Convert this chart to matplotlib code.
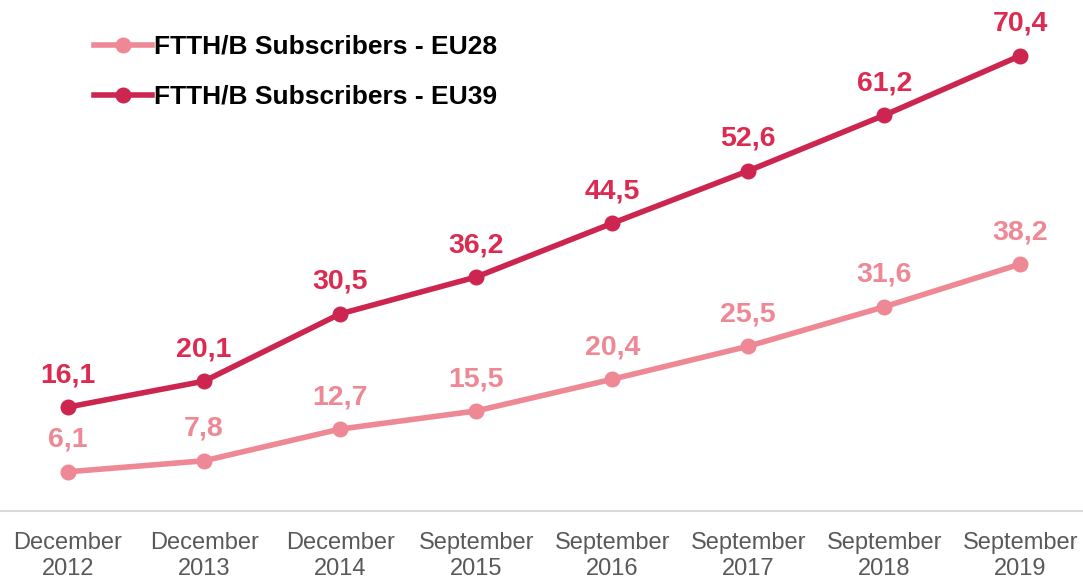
import matplotlib.pyplot as plt

periods = ["December\n2012", "December\n2013", "December\n2014", "September\n2015",
           "September\n2016", "September\n2017", "September\n2018", "September\n2019"]
eu28 = [6.1, 7.8, 12.7, 15.5, 20.4, 25.5, 31.6, 38.2]
eu39 = [16.1, 20.1, 30.5, 36.2, 44.5, 52.6, 61.2, 70.4]

light = '#ee8894'
dark = '#cc2650'

plt.rcParams['font.family'] = ['Liberation Sans', 'DejaVu Sans']

fig = plt.figure(figsize=(10.83, 5.79), dpi=100)
ax = fig.add_axes([0, 0.117, 1, 0.883])

x = range(len(periods))
ax.plot(x, eu28, color=light, lw=4, marker='o', ms=10.5, label='FTTH/B Subscribers - EU28')
ax.plot(x, eu39, color=dark, lw=4, marker='o', ms=10.5, label='FTTH/B Subscribers - EU39')

for i, v in enumerate(eu28):
    ax.annotate(f"{v:.1f}".replace('.', ','), (i, v), xytext=(0, 23), textcoords='offset points',
                ha='center', va='center', color=light, fontsize=20.5, fontweight='bold')
for i, v in enumerate(eu39):
    ax.annotate(f"{v:.1f}".replace('.', ','), (i, v), xytext=(0, 23), textcoords='offset points',
                ha='center', va='center', color='#dc2a50', fontsize=20.5, fontweight='bold')

ax.set_xlim(-0.5, 7.46)
ax.set_ylim(0, 79)
ax.set_yticks([])
ax.set_xticks(list(x))
ax.set_xticklabels(periods, fontsize=17, color='#595959', linespacing=1.25)
ax.tick_params(axis='x', length=0, pad=15)
for s in ['top', 'left', 'right']:
    ax.spines[s].set_visible(False)
ax.spines['bottom'].set_color('#d9d9d9')
ax.spines['bottom'].set_linewidth(1.5)

leg = ax.legend(loc='upper left', bbox_to_anchor=(0.065, 0.978), frameon=False,
                prop={'weight': 'bold', 'size': 19}, handlelength=2.2, handletextpad=0.05,
                labelspacing=0.98)
for t in leg.get_texts():
    t.set_color('black')

fig.savefig('out.png', dpi=100)
